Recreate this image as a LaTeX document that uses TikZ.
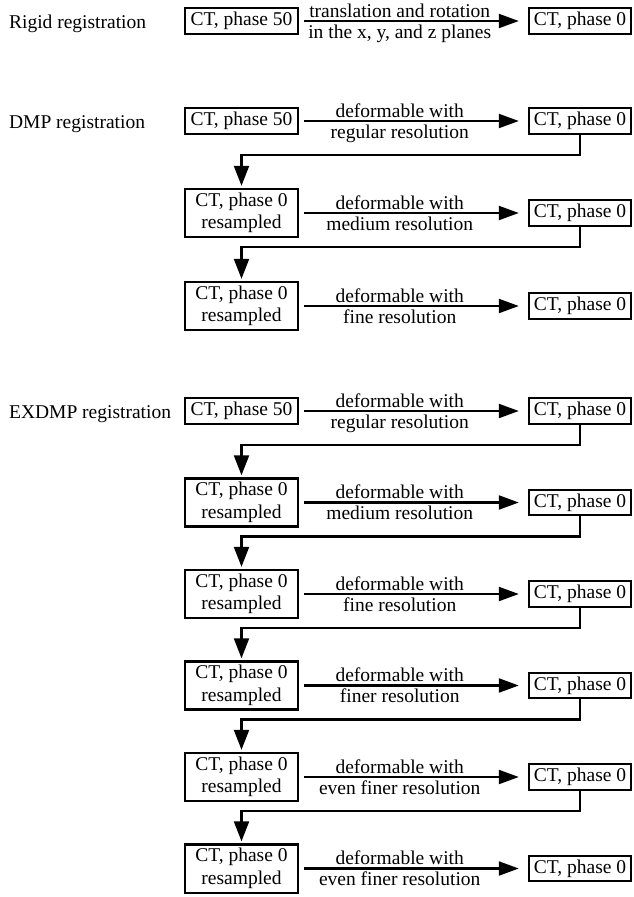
\documentclass[tikz,border=0pt]{standalone}
\usepackage{fontspec}
\setmainfont{Liberation Serif}
\usetikzlibrary{arrows.meta}

\begin{document}
\begin{tikzpicture}[x=1pt,y=-1pt,line width=2.2pt,
    font=\fontsize{19.5}{22.5}\selectfont,
    ctbox/.style={draw, inner xsep=5pt, inner ysep=4pt, align=center},
    lbox/.style={ctbox, minimum width=113pt},
    rbox/.style={ctbox, minimum width=102pt},
    regname/.style={anchor=base west, inner xsep=0pt},
    uplab/.style={anchor=base, yshift=4pt, pos=.44},
    lowlab/.style={anchor=base, yshift=-17pt, pos=.44},
    go/.style={-{Triangle[length=20pt,width=14pt]}, shorten <=5pt, shorten >=9pt},
    down/.style={-{Triangle[length=20pt,width=15pt]}, shorten >=2pt}]

\useasboundingbox (0,0) rectangle (634,897);

% rigid
\node[regname] (rigid) at (8,28) {Rigid registration};
\node[lbox] (g1) at (241.5,21) {CT, phase 50};
\node[rbox] (g1r) at (580,21) {CT, phase 0};
\draw[go] (g1) -- (g1r) node[uplab] {translation and rotation} node[lowlab] {in the x, y, and z planes};

% DMP
\node[regname] (dmp) at (8,128) {DMP registration};
\node[lbox] (d1) at (241.5,121) {CT, phase 50};
\node[rbox] (d1r) at (580,121) {CT, phase 0};
\node[lbox] (d2) at (241.5,213) {CT, phase 0\\resampled};
\node[rbox] (d2r) at (580,213) {CT, phase 0};
\node[lbox] (d3) at (241.5,306) {CT, phase 0\\resampled};
\node[rbox] (d3r) at (580,306) {CT, phase 0};

\draw[go] (d1) -- (d1r) node[uplab] {deformable with} node[lowlab] {regular resolution};
\draw[go] (d2) -- (d2r) node[uplab] {deformable with} node[lowlab] {medium resolution};
\draw[go] (d3) -- (d3r) node[uplab] {deformable with} node[lowlab] {fine resolution};

\coordinate (dk1) at (400,155);
\coordinate (dk2) at (400,247);
\draw[down] (d1r.south) |- (dk1) -| (d2.north);
\draw[down] (d2r.south) |- (dk2) -| (d3.north);

% EXDMP
\node[regname] (exdmp) at (8,418) {EXDMP registration};
\node[lbox] (e1) at (241.5,411) {CT, phase 50};
\node[rbox] (e1r) at (580,411) {CT, phase 0};
\node[lbox] (e2) at (241.5,502.5) {CT, phase 0\\resampled};
\node[rbox] (e2r) at (580,502.5) {CT, phase 0};
\node[lbox] (e3) at (241.5,594) {CT, phase 0\\resampled};
\node[rbox] (e3r) at (580,594) {CT, phase 0};
\node[lbox] (e4) at (241.5,685.5) {CT, phase 0\\resampled};
\node[rbox] (e4r) at (580,685.5) {CT, phase 0};
\node[lbox] (e5) at (241.5,777) {CT, phase 0\\resampled};
\node[rbox] (e5r) at (580,777) {CT, phase 0};
\node[lbox] (e6) at (241.5,868.5) {CT, phase 0\\resampled};
\node[rbox] (e6r) at (580,868.5) {CT, phase 0};

\draw[go] (e1) -- (e1r) node[uplab] {deformable with} node[lowlab] {regular resolution};
\draw[go] (e2) -- (e2r) node[uplab] {deformable with} node[lowlab] {medium resolution};
\draw[go] (e3) -- (e3r) node[uplab] {deformable with} node[lowlab] {fine resolution};
\draw[go] (e4) -- (e4r) node[uplab] {deformable with} node[lowlab] {finer resolution};
\draw[go] (e5) -- (e5r) node[uplab] {deformable with} node[lowlab] {even finer resolution};
\draw[go] (e6) -- (e6r) node[uplab] {deformable with} node[lowlab] {even finer resolution};

\coordinate (ek1) at (400,445);
\coordinate (ek2) at (400,536.5);
\coordinate (ek3) at (400,628);
\coordinate (ek4) at (400,719.5);
\coordinate (ek5) at (400,811);
\draw[down] (e1r.south) |- (ek1) -| (e2.north);
\draw[down] (e2r.south) |- (ek2) -| (e3.north);
\draw[down] (e3r.south) |- (ek3) -| (e4.north);
\draw[down] (e4r.south) |- (ek4) -| (e5.north);
\draw[down] (e5r.south) |- (ek5) -| (e6.north);

\end{tikzpicture}
\end{document}
